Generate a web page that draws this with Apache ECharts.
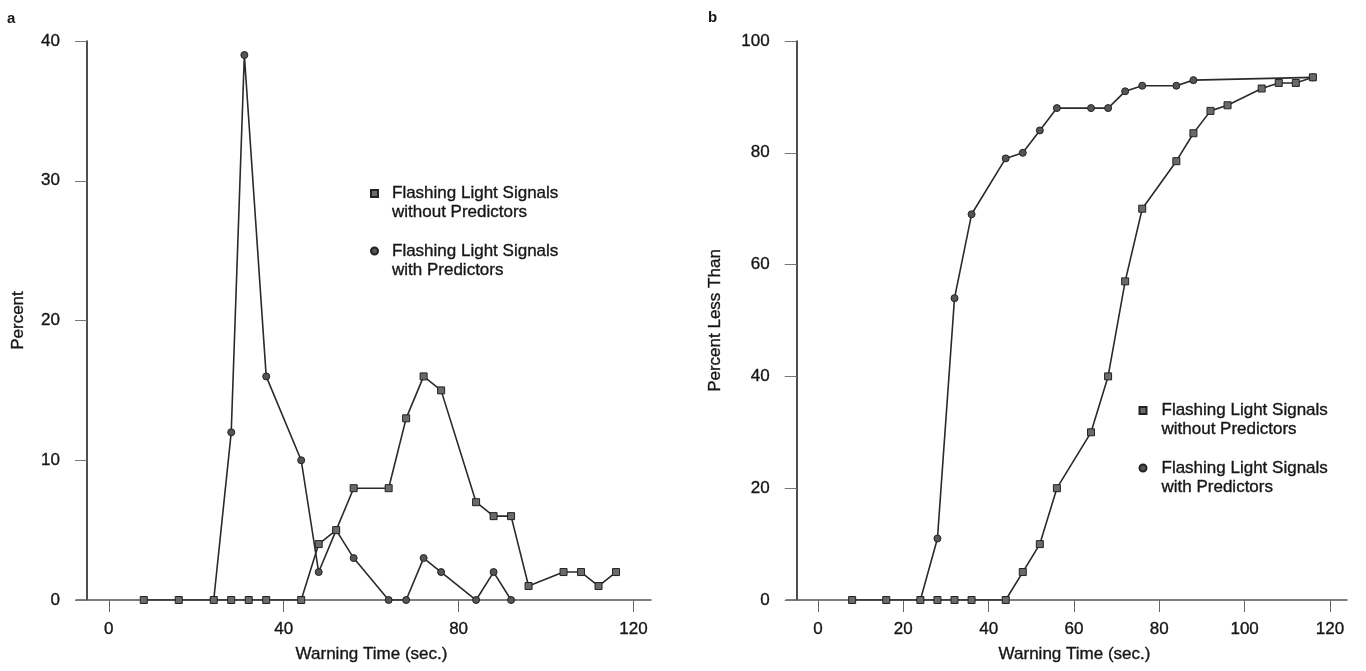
<!DOCTYPE html>
<html><head><meta charset="utf-8">
<script src="https://cdn.jsdelivr.net/npm/echarts@6/dist/echarts.min.js"></script>
<style>html,body{margin:0;padding:0;background:#fff}#c{width:1366px;height:671px}</style>
</head><body><div id="c"></div>
<script>
// Panel a: percent distribution
const aWithoutX = [8,16,24,28,32,36,44,48,52,56,64,68,72,76,84,88,92,96,104,108,112,116];
const aWithoutY = [0,0,0,0,0,0,0,4,5,8,8,13,16,15,7,6,6,1,2,2,1,2];
const aWithX = [24,28,31,36,44,48,52,56,64,68,72,76,84,88,92];
const aWithY = [0,12,39,16,10,2,5,3,0,0,3,2,0,2,0];
// Panel b: cumulative percent
const bWithoutX = [8,16,24,28,32,36,44,48,52,56,64,68,72,76,84,88,92,96,104,108,112,116];
const bWithoutY = [0,0,0,0,0,0,0,5,10,20,30,40,57,70,78.5,83.5,87.5,88.5,91.5,92.5,92.5,93.5];
const bWithX = [24,28,32,36,44,48,52,56,64,68,72,76,84,88,116];
const bWithY = [0,11,54,69,79,80,84,88,88,88,91,92,92,93,93.5];
const aTicks = [0,40,80,120];
const bTicks = [0,20,40,60,80,100,120];
const nameWithout = 'Flashing Light Signals\nwithout Predictors';
const nameWith = 'Flashing Light Signals\nwith Predictors';

const FONT = 'Liberation Sans';
const TXT = '#161616';
const thick = {textBorderColor: TXT, textBorderWidth: 0.35};
const zip = (xs, ys) => xs.map((x, i) => [x, ys[i]]);

function xAxisCfg(gridIndex, ticks) {
  return {
    type: 'value', gridIndex, min: -7.5, max: 124,
    name: 'Warning Time (sec.)', nameLocation: 'middle', nameGap: 46,
    nameTextStyle: Object.assign({fontFamily: FONT, fontSize: 17, color: TXT, padding: [0, 0, 0, 16]}, thick),
    axisLine: {show: true, onZero: false, lineStyle: {color: '#555', width: 1.5}},
    axisTick: {show: true, length: 12, inside: false, customValues: ticks, lineStyle: {color: '#666', width: 1}},
    axisLabel: Object.assign({customValues: ticks, margin: 21, fontFamily: FONT, fontSize: 17, color: TXT}, thick),
    splitLine: {show: false}
  };
}
function yAxisCfg(gridIndex, max, interval, name, gap, off) {
  return {
    type: 'value', gridIndex, min: 0, max, interval, offset: off,
    name, nameLocation: 'middle', nameGap: gap,
    nameTextStyle: Object.assign({fontFamily: FONT, fontSize: 17, color: TXT}, thick),
    axisLine: {show: true, onZero: false, lineStyle: {color: '#222', width: 1.6}},
    axisTick: {show: true, length: 12, lineStyle: {color: '#777', width: 1}},
    axisLabel: Object.assign({margin: 27, fontFamily: FONT, fontSize: 17, color: TXT}, thick),
    splitLine: {show: false}
  };
}
const sqStyle = {color: '#6a6a6a', borderColor: '#222', borderWidth: 1};
const ciStyle = {color: '#555', borderColor: '#222', borderWidth: 1};
const lineStyle = {color: '#2a2a2a', width: 1.6};
function ser(name, xi, data, symbol, style, z) {
  return {type: 'line', name, xAxisIndex: xi, yAxisIndex: xi, data, symbol, symbolSize: 7,
    itemStyle: style, lineStyle, z, animation: false, showAllSymbol: true};
}
function legendCfg(left, top, pl) {
  return {
    orient: 'vertical', left, top, padding: 0, itemGap: 0.5, itemWidth: 7, itemHeight: 7,
    selectedMode: false,
    formatter: (n) => '\n' + n,
    data: [{name: nameWithout, icon: 'rect'}, {name: nameWith, icon: 'circle'}],
    textStyle: Object.assign({fontFamily: FONT, fontSize: 17, color: TXT, lineHeight: 19,
      padding: [0, 0, 0, pl]}, thick)
  };
}
const chart = echarts.init(document.getElementById('c'), null, {renderer: 'canvas'});
chart.setOption({
  animation: false,
  backgroundColor: '#fff',
  title: [
    {text: 'a', left: 2, top: 6, textStyle: {fontFamily: FONT, fontSize: 15, fontWeight: 'bold', color: TXT}},
    {text: 'b', left: 703, top: 5, textStyle: {fontFamily: FONT, fontSize: 15, fontWeight: 'bold', color: TXT}}
  ],
  grid: [
    {left: 76, top: 41, width: 575, height: 559},
    {left: 786, top: 41, width: 561, height: 559}
  ],
  xAxis: [xAxisCfg(0, aTicks), xAxisCfg(1, bTicks)],
  yAxis: [yAxisCfg(0, 40, 10, 'Percent', 60, -11), yAxisCfg(1, 100, 20, 'Percent Less Than', 73, -10.7)],
  legend: [legendCfg(370, 165, 9), legendCfg(1138.5, 382, 10)],
  series: [
    ser(nameWithout, 0, zip(aWithoutX, aWithoutY), 'rect', sqStyle, 3),
    ser(nameWith, 0, zip(aWithX, aWithY), 'circle', ciStyle, 2),
    ser(nameWithout, 1, zip(bWithoutX, bWithoutY), 'rect', sqStyle, 3),
    ser(nameWith, 1, zip(bWithX, bWithY), 'circle', ciStyle, 2)
  ]
});
</script></body></html>
